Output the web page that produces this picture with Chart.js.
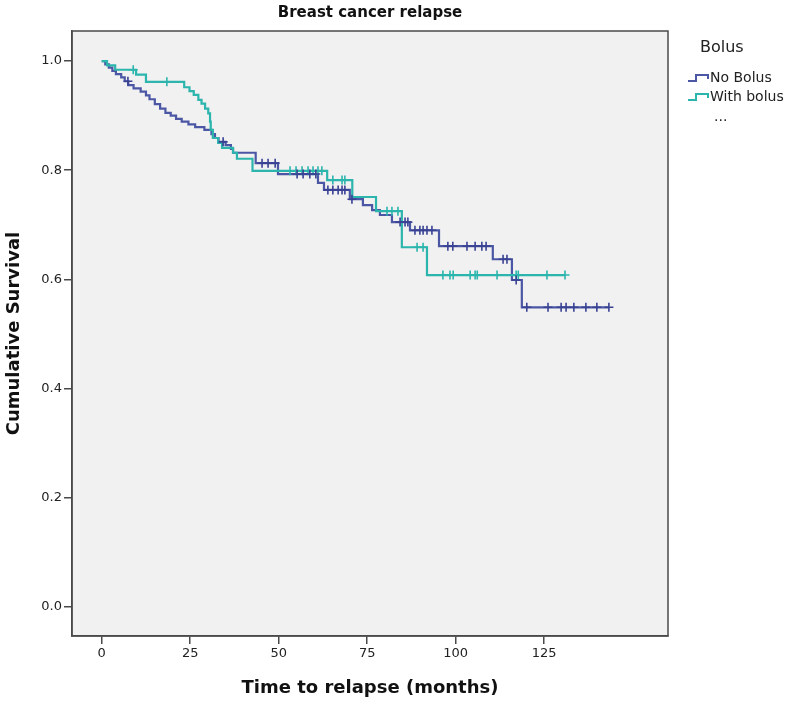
<!DOCTYPE html>
<html>
<head>
<meta charset="utf-8">
<title>Breast cancer relapse</title>
<script src="https://cdn.jsdelivr.net/npm/chart.js@4.4.1/dist/chart.umd.min.js"></script>
<style>
  html, body { margin: 0; padding: 0; background: #fff; }
  #wrap { position: relative; width: 797px; height: 703px; }
</style>
</head>
<body>
<div id="wrap"><canvas id="km"></canvas></div>
<script>
// Kaplan-Meier curves (time in months, cumulative survival)
var seriesNames = ['No Bolus', 'With bolus'];

var noBolusTimes = [0, 1, 2, 3, 4, 5.5, 6.5, 7.5, 9, 11, 12.5, 13.5, 15, 16.5, 18, 19.5, 21, 22.6, 24.5, 26.4,
  29, 31, 32, 33, 35, 36.5, 37.1, 43.5, 49.8, 61.1, 62.8, 70.1, 73.8, 76.4, 78.6, 82, 87.1, 95.3, 110.5, 115.9, 118.7];
var noBolusSurv = [1, 0.994, 0.988, 0.982, 0.976, 0.970, 0.963, 0.956, 0.950, 0.944, 0.937, 0.930, 0.921, 0.913, 0.905, 0.900, 0.894, 0.889, 0.884, 0.879,
  0.874, 0.866, 0.859, 0.852, 0.846, 0.839, 0.832, 0.813, 0.793, 0.777, 0.764, 0.747, 0.736, 0.727, 0.718, 0.705, 0.690, 0.661, 0.637, 0.599, 0.549];
var noBolusCensored = [7.4, 34.3, 45.3, 47, 49, 55.2, 56.9, 58.8, 60.5, 63.9, 65.3, 66.8, 67.9, 68.7, 70.7, 84.3, 85.7, 86.5,
  88.5, 89.9, 90.8, 91.9, 93.3, 97.8, 99.2, 103.2, 105.5, 107.4, 108.6, 113.4, 114.5, 117.1, 120.1, 126.1, 129.8, 131.2,
  133.4, 136.8, 139.9, 143.3];

var withBolusTimes = [0, 1.5, 3.8, 9.7, 12.5, 23.3, 24.8, 26, 27.3, 28.2, 29.2, 30.1, 30.6, 30.8, 31.4, 32.9, 34, 37.1, 38.2,
  42.6, 63.7, 70.8, 77.5, 84.8, 91.9];
var withBolusSurv = [1, 0.992, 0.984, 0.975, 0.962, 0.952, 0.945, 0.938, 0.929, 0.922, 0.913, 0.904, 0.889, 0.874, 0.859,
  0.850, 0.841, 0.832, 0.821, 0.799, 0.782, 0.751, 0.725, 0.659, 0.608];
var withBolusCensored = [8.9, 18.4, 53.2, 54.9, 56.6, 58.3, 59.7, 61.1, 62.2, 65.3, 67.9, 68.7, 80.6, 82, 83.7, 89.1, 90.8,
  96.4, 98.4, 99.3, 104.1, 105.5, 106.1, 111.7, 117.1, 117.7, 125.8, 130.9];

var xTicks = [0, 25, 50, 75, 100, 125];
var yTicks = [0, 0.2, 0.4, 0.6, 0.8, 1.0];

var colNoBolus = '#4b57a4';
var colWithBolus = '#2bb5ad';

// survival value of a step curve at time t
function survAt(times, surv, t) {
  var s = surv[0];
  for (var i = 0; i < times.length; i++) {
    if (times[i] <= t) s = surv[i];
  }
  return s;
}

function curvePoints(times, surv, censored) {
  var pts = times.map(function (t, i) { return { x: t, y: surv[i] }; });
  var last = censored[censored.length - 1];
  if (last > times[times.length - 1]) pts.push({ x: last, y: surv[surv.length - 1] });
  return pts;
}

function censorPoints(times, surv, censored) {
  return censored.map(function (t) { return { x: t, y: survAt(times, surv, t) }; });
}

// light grey plot area with a dark frame
var plotBox = {
  id: 'plotBox',
  beforeDraw: function (chart) {
    var a = chart.chartArea, ctx = chart.ctx;
    ctx.save();
    ctx.fillStyle = '#f1f1f1';
    ctx.fillRect(a.left, a.top, a.right - a.left, a.bottom - a.top);
    ctx.restore();
  },
  afterDraw: function (chart) {
    var a = chart.chartArea, ctx = chart.ctx;
    ctx.save();
    ctx.strokeStyle = '#4a4a4a';
    ctx.lineWidth = 1.5;
    ctx.strokeRect(a.left, a.top, a.right - a.left, a.bottom - a.top);
    ctx.restore();
  }
};

// legend on the right, SPSS style
var sideLegend = {
  id: 'sideLegend',
  afterDraw: function (chart) {
    var ctx = chart.ctx;
    var x = 688, y0 = 78, gap = 19;
    ctx.save();
    ctx.fillStyle = '#222';
    ctx.textBaseline = 'middle';
    ctx.font = '16px "DejaVu Sans", sans-serif';
    ctx.fillText('Bolus', 700, 48);
    ctx.font = '14px "DejaVu Sans", sans-serif';
    [colNoBolus, colWithBolus].forEach(function (c, i) {
      var y = y0 + i * gap;
      ctx.strokeStyle = c;
      ctx.lineWidth = 2;
      ctx.beginPath();
      ctx.moveTo(x, y + 3);
      ctx.lineTo(x + 8, y + 3);
      ctx.lineTo(x + 8, y - 3);
      ctx.lineTo(x + 20, y - 3);
      ctx.lineTo(x + 20, y + 1);
      ctx.stroke();
      ctx.fillText(seriesNames[i], x + 22, y);
    });
    ctx.fillText('...', x + 26, y0 + 2 * gap + 1);
    ctx.restore();
  }
};

var tickFont = { family: '"DejaVu Sans", sans-serif', size: 13 };
var titleFont = { family: '"DejaVu Sans", sans-serif', size: 18, weight: 'bold' };

new Chart(document.getElementById('km'), {
  type: 'line',
  data: {
    datasets: [
      {
        label: seriesNames[0] + ' censored',
        data: censorPoints(noBolusTimes, noBolusSurv, noBolusCensored),
        showLine: false,
        pointStyle: 'cross',
        pointRadius: 4.5,
        borderColor: '#3a4294',
        borderWidth: 1.6,
        order: 0
      },
      {
        label: seriesNames[1] + ' censored',
        data: censorPoints(withBolusTimes, withBolusSurv, withBolusCensored),
        showLine: false,
        pointStyle: 'cross',
        pointRadius: 4.5,
        borderColor: colWithBolus,
        borderWidth: 1.6,
        order: 1
      },
      {
        label: seriesNames[1],
        data: curvePoints(withBolusTimes, withBolusSurv, withBolusCensored),
        stepped: 'before',
        borderColor: colWithBolus,
        borderWidth: 2.2,
        pointRadius: 0,
        fill: false,
        order: 2
      },
      {
        label: seriesNames[0],
        data: curvePoints(noBolusTimes, noBolusSurv, noBolusCensored),
        stepped: 'before',
        borderColor: colNoBolus,
        borderWidth: 2.2,
        pointRadius: 0,
        fill: false,
        order: 3
      }
    ]
  },
  options: {
    responsive: true,
    maintainAspectRatio: false,
    animation: false,
    layout: { padding: { left: 0, right: 129, top: 0, bottom: 0 } },
    scales: {
      x: {
        type: 'linear',
        min: -8.4,
        max: 160,
        afterBuildTicks: function (s) { s.ticks = xTicks.map(function (v) { return { value: v }; }); },
        afterFit: function (s) { s.height = 67; },
        ticks: { font: tickFont, color: '#222', padding: 2, maxRotation: 0 },
        grid: { drawOnChartArea: false, drawTicks: true, tickLength: 8, color: '#4a4a4a', lineWidth: 1.5 },
        border: { display: true, color: '#4a4a4a', width: 1.5 },
        title: { display: true, text: 'Time to relapse (months)', font: titleFont, color: '#111', padding: { top: 0, bottom: 4 } }
      },
      y: {
        type: 'linear',
        min: -0.053,
        max: 1.055,
        afterBuildTicks: function (s) { s.ticks = yTicks.map(function (v) { return { value: v }; }); },
        afterFit: function (s) { s.width = 72; },
        ticks: {
          font: tickFont, color: '#222', padding: 2,
          callback: function (v) { return v.toFixed(1); }
        },
        grid: { drawOnChartArea: false, drawTicks: true, tickLength: 8, color: '#4a4a4a', lineWidth: 1.5 },
        border: { display: true, color: '#4a4a4a', width: 1.5 },
        title: { display: true, text: 'Cumulative Survival', font: titleFont, color: '#111', padding: { top: 4, bottom: 0 } }
      }
    },
    plugins: {
      legend: { display: false },
      tooltip: { enabled: false },
      title: {
        display: true,
        text: 'Breast cancer relapse',
        fullSize: false,
        font: { family: '"DejaVu Sans", sans-serif', size: 15, weight: 'bold' },
        color: '#111',
        padding: { top: 4, bottom: 9 }
      }
    }
  },
  plugins: [plotBox, sideLegend]
});
</script>
</body>
</html>
